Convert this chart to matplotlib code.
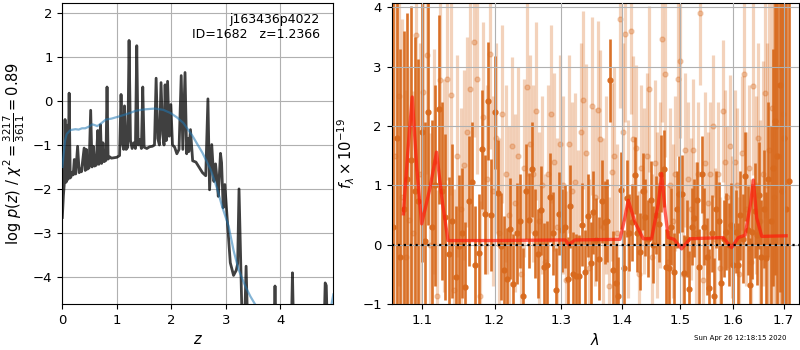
import matplotlib
matplotlib.use("Agg")
import matplotlib.pyplot as plt
from matplotlib.ticker import FixedLocator, FixedFormatter, NullLocator
import numpy as np

# ---------------- redshift likelihood panel ----------------
z_pdf = [0.00, 0.02, 0.035, 0.05, 0.065, 0.08, 0.09, 0.105, 0.125, 0.145, 0.16, 0.18, 0.20,
         0.22, 0.245, 0.28, 0.31, 0.33, 0.35, 0.40, 0.42, 0.44, 0.46, 0.49, 0.52, 0.545,
         0.57, 0.59, 0.62, 0.65, 0.67, 0.70, 0.72, 0.745, 0.765, 0.80, 0.82, 0.84, 0.87,
         0.90, 0.95, 1.00, 1.05, 1.077, 1.10, 1.125, 1.14, 1.17, 1.20, 1.224, 1.25, 1.28,
         1.31, 1.34, 1.365, 1.39, 1.42, 1.45, 1.475, 1.50, 1.55, 1.60, 1.65, 1.69, 1.72,
         1.75, 1.78, 1.81, 1.84, 1.865, 1.885, 1.905, 1.93, 1.96, 1.99, 2.02, 2.06, 2.10,
         2.14, 2.18, 2.21, 2.25, 2.28, 2.30, 2.32, 2.35, 2.39, 2.45, 2.51, 2.57, 2.63,
         2.67, 2.70, 2.74, 2.78, 2.81, 2.83, 2.86, 2.90, 2.92, 2.95, 2.98, 3.02, 3.08,
         3.14, 3.19, 3.215, 3.24, 3.27, 3.30, 3.34, 3.37, 3.40, 3.88, 3.90, 3.92, 4.20,
         4.22, 4.24, 4.80, 4.82, 4.84, 4.86, 4.97]
log_pz = [-2.65, -2.15, -1.90, -0.42, -1.85, -1.82, -0.55, -1.78, 0.18, -1.75, -1.72, -1.62, -1.68,
          -1.33, -1.66, -1.03, -1.63, -1.55, -1.61, -1.07, -1.58, -1.10, -1.55, -1.52, -0.21, -1.50,
          -1.03, -1.48, -1.46, -0.67, -1.44, -0.54, -1.42, -0.95, -1.38, -1.35, 0.32, -1.32, -1.27,
          -1.30, -1.29, -1.28, -1.24, 0.15, -0.95, -1.10, -0.11, -1.10, -1.05, 1.38, -0.90, -1.08,
          -0.95, -1.08, 1.26, -1.00, -0.88, -1.08, 0.32, -1.05, -1.08, -1.04, -1.03, -1.00, 0.52,
          -0.85, -1.00, 0.42, -0.75, -1.00, 0.37, -0.90, 0.45, -0.80, -0.08, -1.00, -1.05, -1.20,
          -1.10, 0.58, -1.10, 0.65, -1.20, -0.85, -1.15, -0.65, -1.36, -1.39, -1.51, -1.63, -1.70,
          0.05, -2.02, -0.99, -1.83, -1.43, -1.70, -2.17, -1.19, -1.40, -2.43, -1.90, -2.62, -3.68,
          -3.97, -3.85, -3.70, -2.00, -3.60, -5.20, -5.20, -3.76, -5.20, -5.20, -4.21, -5.20, -5.20,
          -3.91, -5.20, -5.20, -4.14, -4.20, -5.20, -5.20]

z_smooth = [0.00, 0.02, 0.05, 0.08, 0.15, 0.24, 0.30, 0.36, 0.42, 0.49, 0.55, 0.60, 0.64, 0.70,
            0.80, 0.90, 1.04, 1.22, 1.35, 1.50, 1.70, 1.85, 1.98, 2.10, 2.22, 2.39, 2.57, 2.72,
            2.84, 2.93, 3.05, 3.14, 3.23, 3.35, 3.45, 3.57, 3.70, 4.85, 4.97]
log_smooth = [-1.50, -1.26, -0.90, -0.75, -0.66, -0.64, -0.65, -0.62, -0.62, -0.58, -0.53, -0.55,
              -0.57, -0.52, -0.42, -0.40, -0.35, -0.28, -0.22, -0.19, -0.17, -0.20, -0.27, -0.37,
              -0.50, -0.80, -1.18, -1.56, -2.00, -2.40, -2.85, -3.40, -3.83, -4.20, -4.45, -4.70,
              -5.00, -5.20, -4.40]

# ---------------- spectrum panel ----------------
wave_a = [10620, 10666, 10712, 10758, 10804, 10850, 10896, 10942, 10988, 11034, 11080, 11126,
          11172, 11218, 11264, 11310, 11356, 11402, 11448, 11494, 11540, 11586, 11632, 11678,
          11724, 11770, 11816, 11862, 11908, 11954, 12000, 12046, 12092, 12138, 12184, 12230,
          12276, 12322, 12368, 12414, 12460, 12506, 12552, 12598, 12644, 12690, 12736, 12782,
          12828, 12874, 12920, 12966, 13012, 13058, 13104, 13150, 13196, 13242, 13288, 13334,
          13380, 13426, 13472, 13518, 13564, 13610, 13656, 13702, 13748, 13794, 13840, 13886,
          13932, 13978, 14024, 14070, 14116, 14162, 14208, 14254, 14300, 14346, 14392, 14438,
          14484, 14530, 14576, 14622, 14668, 14714, 14760, 14806, 14852, 14898, 14944, 14990,
          15036, 15082, 15128, 15174, 15220, 15266, 15312, 15358, 15404, 15450, 15496, 15542,
          15588, 15634, 15680, 15726, 15772, 15818, 15864, 15910, 15956, 16002, 16048, 16094,
          16140, 16186, 16232, 16278, 16324, 16370, 16416, 16462, 16508, 16554, 16600, 16646,
          16692, 16738, 16784, 16830, 16876, 16922, 16968, 17014, 17060, 17106]
flux_a = [0.30, 1.80, -0.20, 0.61, 1.10, 1.42, 0.90, 0.73, 1.90, 0.06, 2.23, 0.30,
          1.00, 2.28, 0.90, 0.47, -0.16, 0.40, -0.54, -0.02, 0.20, -0.72, 0.74, 1.06,
          -0.35, -0.14, 1.61, 0.51, 2.42, 0.50, 2.23, 0.87, -0.03, -0.42, -0.57, 0.27,
          -0.67, 0.19, 0.40, -0.86, 0.90, 0.41, 1.27, 0.19, -0.15, 0.58, -0.38, -0.35,
          0.80, 0.19, -0.76, 0.52, 0.24, 0.30, -0.57, 0.65, -0.49, -0.52, -0.53, 0.34,
          -0.46, 0.49, -0.31, 0.55, 0.08, -0.24, 0.73, 0.38, 0.40, 2.77, -0.42, -0.64,
          -0.86, 0.92, -0.40, 0.78, 0.20, 0.38, 1.17, 0.19, -0.12, 0.90, 0.46, 0.10,
          0.76, 0.00, 0.50, 0.35, 1.20, 1.28, -0.38, -0.40, 0.30, -0.46, 0.60, 0.85,
          0.86, -0.48, 0.10, -0.75, 0.30, 0.45, 0.75, -0.38, 1.19, 0.30, -0.20, -0.73,
          0.19, -0.87, 0.60, 0.40, -0.65, 0.10, 0.22, 0.00, 0.34, -0.34, 0.22, -0.34,
          0.50, 0.10, 1.15, 0.24, -0.68, 0.22, 0.57, 0.17, 0.83, -0.20, 0.60, -0.22,
          1.10, 0.40, 1.30, 2.09, 1.50, 2.70, 0.90, 1.80, 0.60, 1.07]
err_a = [4.5, 4.0, 3.5, 3.0, 2.8, 2.6, 2.6, 2.4, 2.2, 2.0, 1.9, 1.8,
         1.7, 1.6, 1.5, 1.4, 1.3, 1.3, 1.2, 1.2, 1.1, 1.1, 1.1, 1.0,
         1.0, 1.0, 1.0, 1.0, 1.0, 0.95, 0.95, 0.9, 0.9, 0.9, 0.85, 0.85,
         0.85, 0.85, 0.8, 0.8, 0.8, 0.8, 0.8, 0.75, 0.75, 0.75, 0.75, 0.75,
         0.75, 0.7, 0.7, 0.7, 0.7, 0.7, 0.7, 0.7, 0.7, 0.7, 0.7, 0.7,
         0.7, 0.7, 0.7, 0.7, 0.7, 0.7, 0.7, 0.7, 0.7, 0.7, 0.65, 0.65,
         0.65, 0.65, 0.65, 0.65, 0.65, 0.65, 0.65, 0.65, 0.65, 0.65, 0.65, 0.65,
         0.65, 0.65, 0.65, 0.65, 0.65, 0.65, 0.65, 0.65, 0.65, 0.65, 0.65, 0.65,
         0.65, 0.65, 0.65, 0.65, 0.65, 0.65, 0.65, 0.65, 0.65, 0.65, 0.65, 0.65,
         0.65, 0.65, 0.65, 0.65, 0.65, 0.65, 0.65, 0.7, 0.7, 0.7, 0.7, 0.7,
         0.75, 0.75, 0.75, 0.75, 0.8, 0.8, 0.8, 0.85, 0.9, 0.95, 1.0, 1.1,
         1.3, 1.6, 2.0, 2.6, 3.0, 3.5, 4.0, 4.5, 5.0, 5.5]

wave_b = [10643, 10689, 10735, 10781, 10827, 10873, 10919, 10965, 11011, 11057, 11103, 11149,
          11195, 11241, 11287, 11333, 11379, 11425, 11471, 11517, 11563, 11609, 11655, 11701,
          11747, 11793, 11839, 11885, 11931, 11977, 12023, 12069, 12115, 12161, 12207, 12253,
          12299, 12345, 12391, 12437, 12483, 12529, 12575, 12621, 12667, 12713, 12759, 12805,
          12851, 12897, 12943, 12989, 13035, 13081, 13127, 13173, 13219, 13265, 13311, 13357,
          13403, 13449, 13495, 13541, 13587, 13633, 13679, 13725, 13771, 13817, 13863, 13909,
          13955, 14001, 14047, 14093, 14139, 14185, 14231, 14277, 14323, 14369, 14415, 14461,
          14507, 14553, 14599, 14645, 14691, 14737, 14783, 14829, 14875, 14921, 14967, 15013,
          15059, 15105, 15151, 15197, 15243, 15289, 15335, 15381, 15427, 15473, 15519, 15565,
          15611, 15657, 15703, 15749, 15795, 15841, 15887, 15933, 15979, 16025, 16071, 16117,
          16163, 16209, 16255, 16301, 16347, 16393, 16439, 16485, 16531, 16577, 16623, 16669,
          16715, 16761, 16807, 16853, 16899, 16945, 16991]
flux_b = [1.50, 2.50, 0.80, -0.20, 0.42, 0.19, 3.54, 1.20, 2.58, 3.20, -0.01, 1.40,
          -0.87, 2.77, 1.00, 2.79, 2.53, -0.76, 1.50, 0.60, 1.35, 1.90, 2.63, 3.41,
          2.80, -0.86, 2.15, 1.10, 3.22, 0.90, 1.80, 0.20, 2.21, 1.20, 0.50, 1.67,
          0.70, 1.50, -0.50, 1.30, 2.66, 1.70, 1.20, 2.26, 0.40, 1.00, -0.30, 1.20,
          2.20, 1.40, 0.30, 1.70, 1.00, -0.60, 1.70, 0.90, 1.05, 0.10, 1.90, 2.44,
          1.54, -0.40, 2.33, 0.80, 2.27, 1.78, 0.30, 1.00, -0.70, 1.23, 1.50, 0.20,
          3.80, 1.90, 3.56, 0.60, 3.60, 1.78, 1.63, -0.50, 1.30, 0.90, 1.50, 2.62,
          -0.20, 1.38, 0.50, 1.00, 3.46, 2.88, -0.30, 1.00, 0.40, 1.20, 2.80, 3.10,
          -0.50, 1.60, 1.10, 0.60, 1.60, 0.20, 1.20, 3.90, -0.60, 1.38, 0.70, 1.20,
          2.00, 0.10, 1.20, -0.40, 2.25, 1.40, 0.80, 1.66, 0.30, 1.40, 1.00, -0.50,
          1.55, 2.88, 0.60, 1.30, -0.30, 2.67, 1.00, 1.80, 0.40, 1.20, 2.55, 1.00,
          1.60, 2.30, 0.80, 2.00, 1.50, 3.00, 2.20]
err_b = [3.5, 3.2, 3.0, 2.8, 2.6, 2.4, 2.3, 2.2, 2.1, 2.0, 1.9, 1.9,
         1.8, 1.8, 1.8, 1.7, 1.7, 1.7, 1.7, 1.7, 1.6, 1.6, 1.6, 1.6,
         1.6, 1.6, 1.6, 1.6, 1.6, 1.6, 1.6, 1.6, 1.5, 1.5, 1.5, 1.5,
         1.5, 1.5, 1.5, 1.5, 1.5, 1.5, 1.5, 1.5, 1.5, 1.5, 1.5, 1.5,
         1.5, 1.5, 1.5, 1.5, 1.5, 1.5, 1.5, 1.5, 1.5, 1.5, 1.5, 1.5,
         1.5, 1.5, 1.5, 1.5, 1.5, 1.5, 1.5, 1.5, 1.5, 1.5, 1.5, 1.5,
         1.5, 1.5, 1.5, 1.5, 1.4, 1.4, 1.4, 1.4, 1.4, 1.4, 1.4, 1.4,
         1.4, 1.4, 1.4, 1.4, 1.4, 1.4, 1.3, 1.3, 1.3, 1.3, 1.3, 1.3,
         1.3, 1.3, 1.3, 1.2, 1.2, 1.2, 1.2, 1.2, 1.2, 1.2, 1.2, 1.2,
         1.2, 1.2, 1.2, 1.2, 1.2, 1.2, 1.2, 1.2, 1.2, 1.2, 1.3, 1.3,
         1.3, 1.3, 1.3, 1.4, 1.4, 1.5, 1.5, 1.6, 1.7, 1.9, 2.1, 2.4,
         2.7, 3.0, 3.4, 3.8, 4.2, 4.6, 5.0]

model_wave = [1.0750, 1.0810, 1.0866, 1.0925, 1.0990, 1.1100, 1.1189, 1.1270, 1.1345, 1.2000,
              1.3071, 1.3122, 1.3220, 1.3958, 1.4040, 1.4098, 1.4212, 1.4355, 1.4500, 1.4620,
              1.4677, 1.4740, 1.4795, 1.4900, 1.5035, 1.5187, 1.5806, 1.5968, 1.6100, 1.6230,
              1.6340, 1.6393, 1.6460, 1.6560, 1.7054]
model_flux = [0.52, 1.60, 2.49, 1.30, 0.35, 0.95, 1.56, 0.70, 0.07, 0.07,
              0.08, 0.00, 0.08, 0.09, 0.45, 0.75, 0.38, 0.10, 0.10, 0.70,
              1.20, 0.55, 0.12, 0.09, -0.07, 0.10, 0.12, -0.05, 0.12, 0.16,
              0.70, 1.09, 0.45, 0.14, 0.15]

x_ticks = [1.1, 1.2, 1.3, 1.4, 1.5, 1.6, 1.7]
x_ticklabels = ['1.1', '1.2', '1.3', '1.4', '1.5', '1.6', '1.7']

plt.rcParams['font.size'] = 9.5

fig = plt.figure(figsize=(8, 3.5), dpi=100)
ax1 = fig.add_axes([0.0779, 0.1314, 0.3388, 0.861])
ax2 = fig.add_axes([0.4896, 0.1314, 0.5090, 0.861])

# redshift panel
ax1.plot(z_pdf, log_pz, color='k', alpha=0.75, lw=2.0, zorder=3)
ax1.plot(z_smooth, log_smooth, color='C0', alpha=0.55, lw=1.6, zorder=4)
ax1.set_xlim(0, 4.97)
ax1.set_ylim(-4.62, 2.24)
ax1.set_xticks([0, 1, 2, 3, 4])
ax1.set_yticks([-4, -3, -2, -1, 0, 1, 2])
ax1.grid(True)
ax1.set_xlabel(r'$z$', fontsize=10.5)
ax1.set_ylabel(r'$\log\,p(z)$ / $\chi^2=\frac{3217}{3611}=0.89$', fontsize=10.5)
ax1.text(0.95, 0.965, 'j163436p4022\nID=1682   z=1.2366', ha='right', va='top',
         transform=ax1.transAxes, fontsize=9)

# spectrum panel
orange = '#d86a1e'
wa = np.array(wave_a) / 1e4
wb = np.array(wave_b) / 1e4
ax2.errorbar(wb, flux_b, yerr=err_b, fmt='o', color=orange, ms=3.5, elinewidth=2.3,
             capsize=0, alpha=0.3, zorder=1)
ax2.errorbar(wa, flux_a, yerr=err_a, fmt='o', color=orange, ms=3.5, elinewidth=1.9,
             capsize=0, alpha=0.95, zorder=2)
ax2.plot(model_wave, model_flux, color='#ff1a0a', alpha=0.7, lw=2.4, zorder=4)
ax2.axhline(0, color='k', ls=':', lw=1.6, zorder=5)

ax2.set_xscale('log')
ax2.set_xlim(1.060, 1.7318)
ax2.set_ylim(-1.0, 4.08)
ax2.xaxis.set_major_locator(FixedLocator(x_ticks))
ax2.xaxis.set_major_formatter(FixedFormatter(x_ticklabels))
ax2.xaxis.set_minor_locator(NullLocator())
ax2.set_yticks([-1, 0, 1, 2, 3, 4])
ax2.set_axisbelow(False)
ax2.grid(True)
ax2.set_xlabel(r'$\lambda$', fontsize=10.5)
ax2.set_ylabel(r'$f_\lambda\times10^{-19}$', fontsize=10.5)

fig.text(0.983, 0.034, 'Sun Apr 26 12:18:15 2020', ha='right', va='center', fontsize=5)

fig.savefig('out.png', dpi=100)
